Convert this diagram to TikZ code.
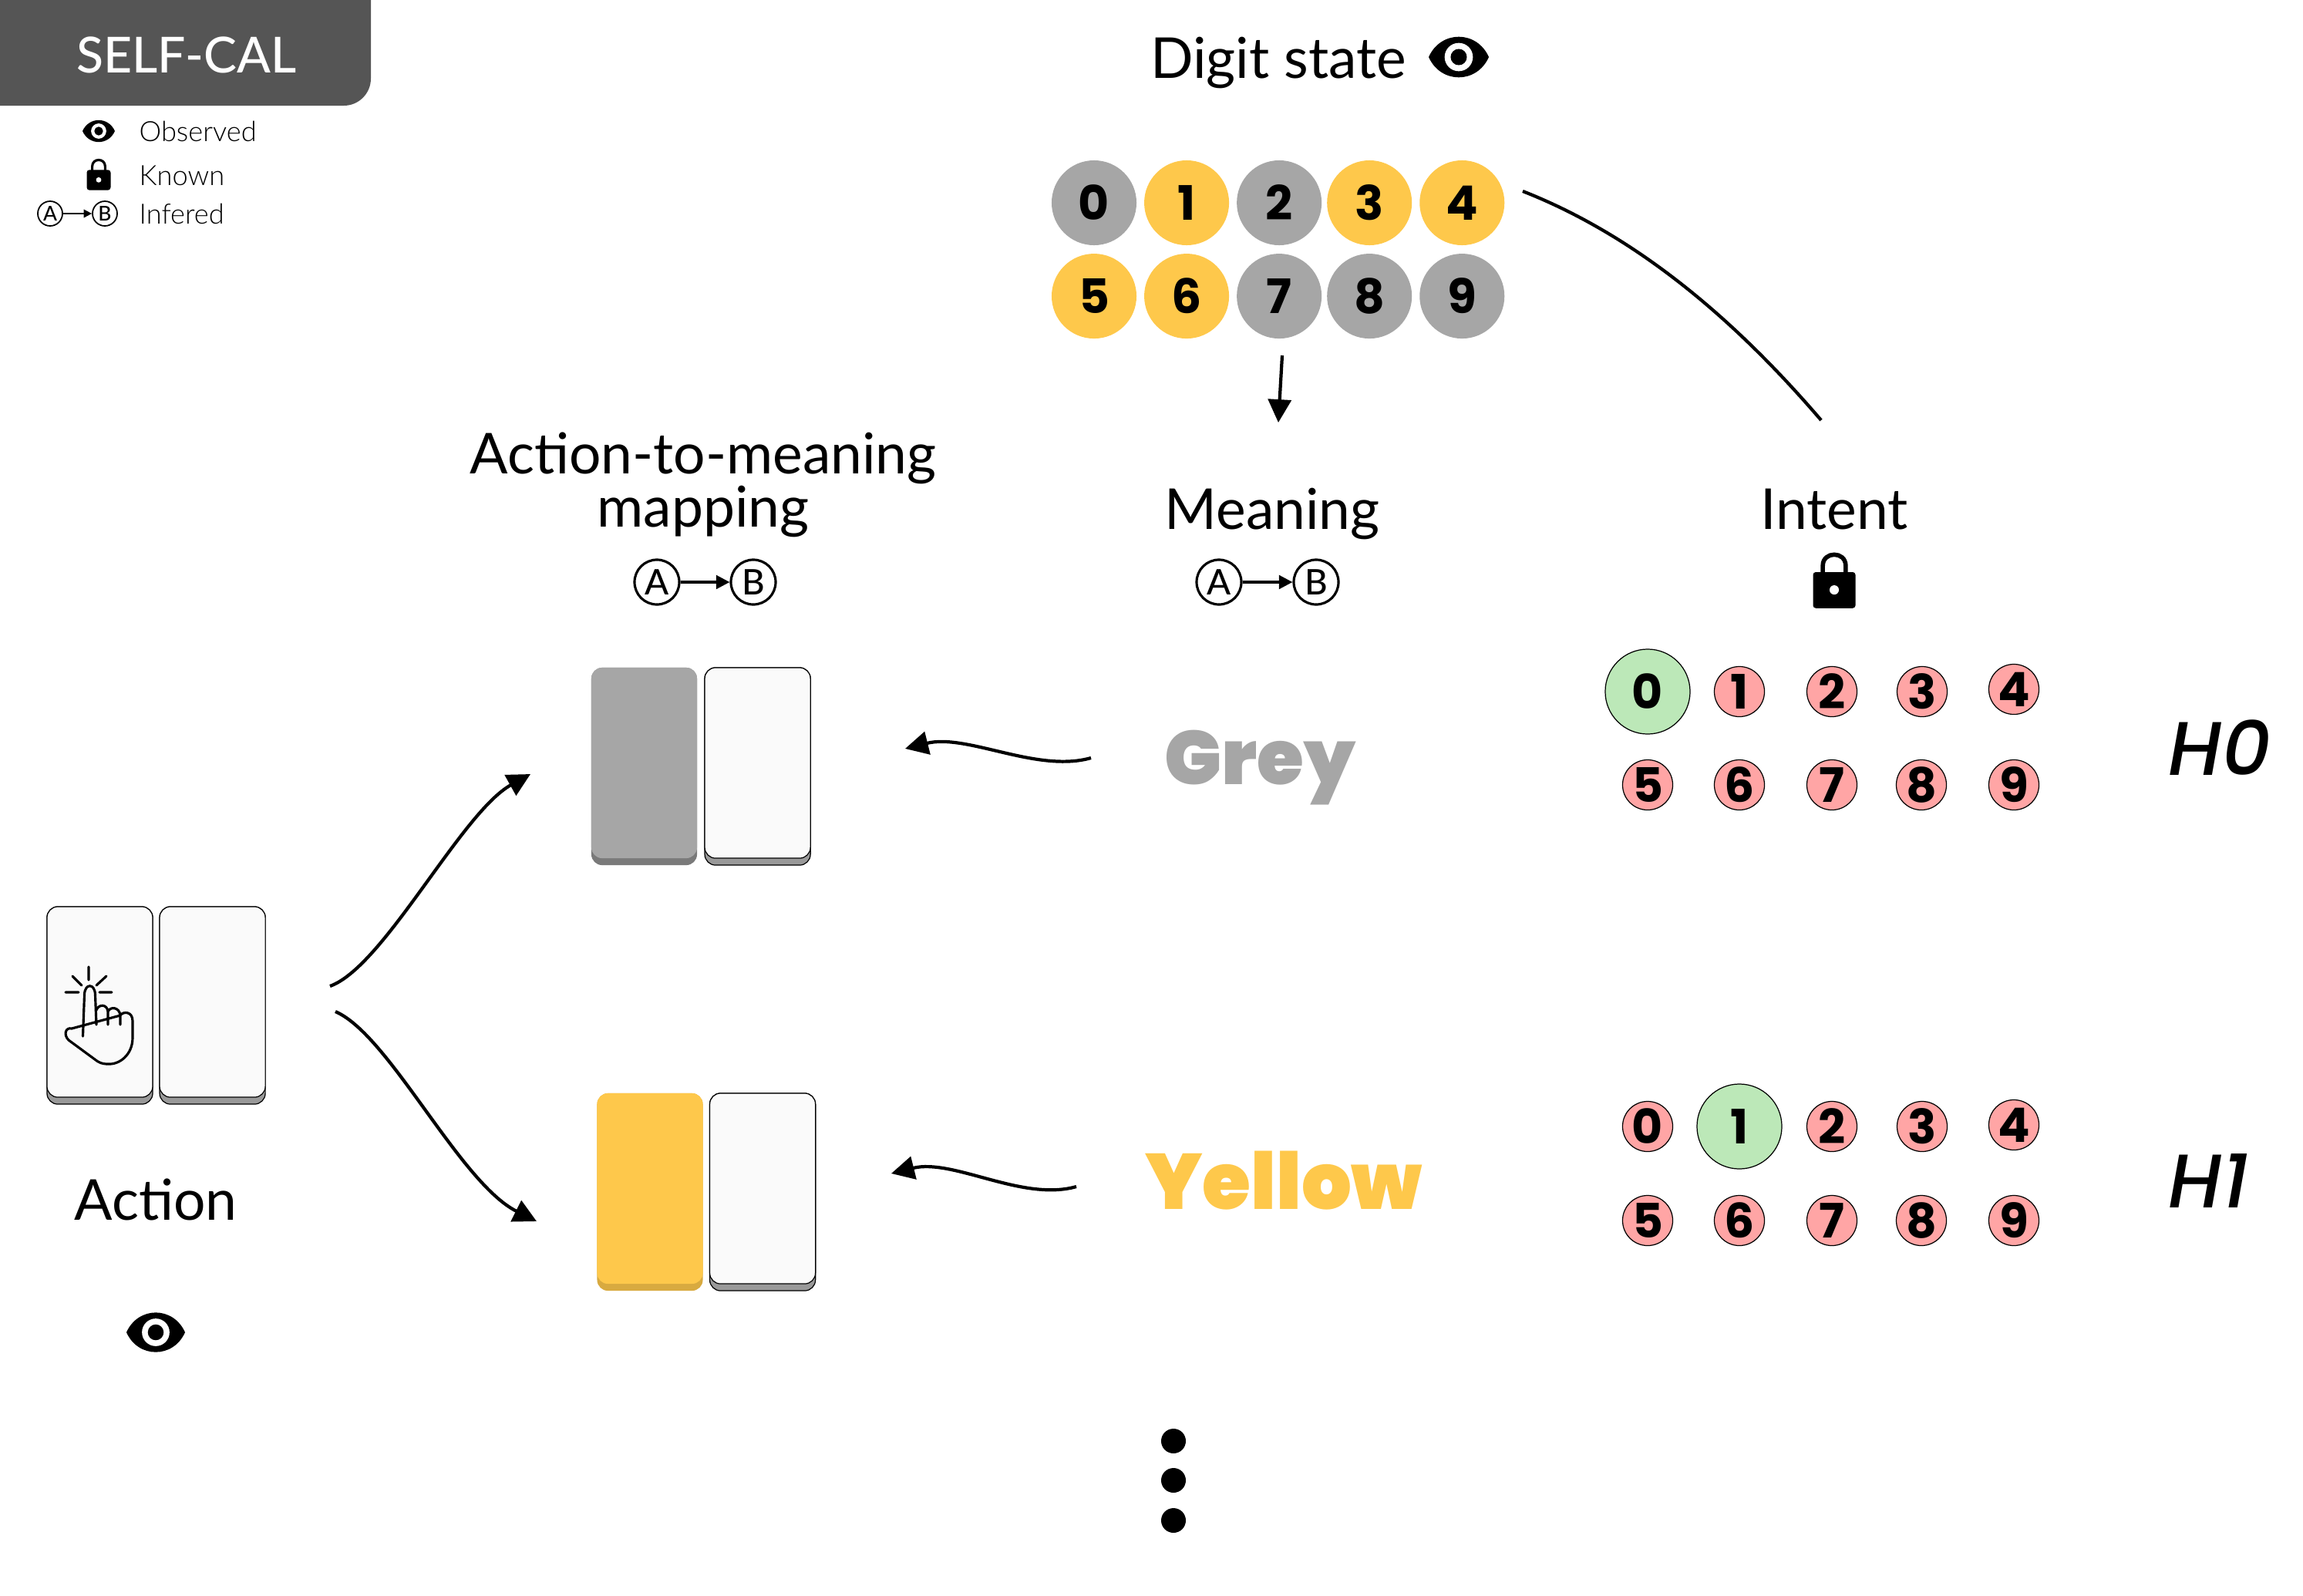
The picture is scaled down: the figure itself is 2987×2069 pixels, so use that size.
\documentclass[tikz,border=0pt]{standalone}
\usepackage{fontspec}
\usepackage{tikz}
\usetikzlibrary{arrows.meta, positioning}
\newfontfamily\lightfont{Lato Light}
\newfontfamily\bodyfont{Lato}
\newfontfamily\midfont{Lato Medium}
\newfontfamily\digitfont{Poppins}[BoldFont={Poppins Bold},ItalicFont={Poppins Medium Italic}]
\newfontfamily\heavyfont{Poppins Black}
\definecolor{hdgrey}{HTML}{555555}
\definecolor{chipgrey}{HTML}{A6A6A6}
\definecolor{chipyellow}{HTML}{FEC84B}
\definecolor{chipred}{HTML}{FFA5A5}
\definecolor{chipgreen}{HTML}{BCE8B8}
\tikzset{
  title/.style    = {font=\bodyfont\fontsize{20.8}{19.6}\selectfont, inner sep=0pt, align=center},
  legend/.style   = {font=\lightfont\fontsize{10.3}{12}\selectfont, inner sep=0pt, anchor=base west},
  chip/.style     = {circle, inner sep=0pt, outer sep=0pt, minimum size=11mm,
                     font=\digitfont\bfseries\fontsize{17.5}{20}\selectfont},
  chipg/.style    = {chip, fill=chipgrey},
  chipy/.style    = {chip, fill=chipyellow},
  hypr/.style     = {chip, draw=black, line width=0.35pt, fill=chipred, minimum size=6.5mm},
  hypg/.style     = {chip, draw=black, line width=0.35pt, fill=chipgreen},
  hyplab/.style   = {font=\digitfont\itshape\fontsize{28}{30}\selectfont, inner sep=0pt, anchor=base west},
  word/.style     = {font=\heavyfont\fontsize{29}{32}\selectfont, inner sep=0pt, anchor=base},
  keybase/.style  = {rounded corners=4pt, minimum width=13.7mm, minimum height=25.6mm, outer sep=0pt,
                     inner sep=0pt, draw=black, line width=0.35pt, fill=black!40},
  keyface/.style  = {rounded corners=4pt, minimum width=13.7mm, minimum height=24.7mm, outer sep=0pt,
                     inner sep=0pt, anchor=north, draw=black, line width=0.35pt, fill=black!2},
  ab/.style       = {circle, draw=black, line width=0.9pt, inner sep=0pt, minimum size=5.8mm,
                     font=\midfont\fontsize{13}{14}\selectfont},
  absmall/.style  = {ab, line width=0.5pt, minimum size=3.2mm, font=\midfont\fontsize{7.5}{8}\selectfont},
  fl/.style       = {-{Triangle[length=8.5pt, width=8.5pt]}, line width=1.2pt},
  flab/.style     = {-{Triangle[length=5pt, width=5pt]}, line width=1pt},
  flabs/.style    = {-{Triangle[length=3pt, width=3pt]}, line width=0.5pt},
  pics/eyeicon/.style = {code={
    \fill[black] (-1,0) .. controls (-0.6,-0.9) and (0.6,-0.9) .. (1,0)
                        .. controls (0.6,0.9) and (-0.6,0.9) .. (-1,0) -- cycle;
    \fill[white] (0,0) circle [radius=0.47];
    \fill[black] (0,0) circle [radius=0.27];
  }},
  pics/lockicon/.style = {code={
    \draw[black, line width=#1] (-0.27,-0.15) -- (-0.27,-0.35) .. controls (-0.27,-0.7) and (0.27,-0.7) .. (0.27,-0.35) -- (0.27,-0.15);
    \fill[black, rounded corners=1pt] (-0.5,-0.2) rectangle (0.5,0.65);
    \fill[white] (0,0.22) circle [radius=0.11];
  }},
}
\begin{document}
\begin{tikzpicture}[x=0.01cm, y=-0.01cm]
\useasboundingbox (0,0) rectangle (2987,2069);
% header and legend
\fill[hdgrey, rounded corners=10pt] (-40,-40) rectangle (481,137);
\node[font=\midfont\fontsize{18.3}{20}\selectfont, text=white, inner sep=0pt] (head) at (242,71) {SELF-CAL};
\pic[scale=21] at (128,170) {eyeicon};
\pic[scale=31] at (128,226.5) {lockicon=0.9pt};
\node[legend] (obs) at (180,183) {Observed};
\node[legend] (kno) at (180,240) {Known};
\node[legend] (inf) at (180,290) {Infered};
\node[absmall] (la) at (65,277) {A};
\node[absmall] (lb) at (136,277) {B};
\draw[flabs] (la) -- (lb);

% digit state
\node[title, anchor=base] (dig) at (1658,101) {Digit state};
\pic[scale=39] at (1892,74) {eyeicon};
\node[chipg] (d0) at (1419,263) {0};
\node[chipy, right=1mm of d0] (d1) {1};
\node[chipg, right=1mm of d1] (d2) {2};
\node[chipy, right=0.7mm of d2] (d3) {3};
\node[chipy, right=1mm of d3] (d4) {4};
\node[chipy, below=1.1mm of d0] (d5) {5};
\node[chipy, right=1mm of d5] (d6) {6};
\node[chipg, right=1mm of d6] (d7) {7};
\node[chipg, right=0.7mm of d7] (d8) {8};
\node[chipg, right=1mm of d8] (d9) {9};

\coordinate (dsa) at (1663,461);
\coordinate (dsb) at (1658,548);
\draw[fl] (dsa) -- (dsb);
\coordinate (isa) at (1975,248);
\coordinate (isb) at (2362,545);
\draw[line width=1.2pt] (isa) .. controls +(140,55) and +(-120,-140) .. (isb);

% column titles
\node[title] (map) at (912,629) {Action-to-meaning\\mapping};
\node[title, anchor=base] (mea) at (1650,686) {Meaning};
\node[title, anchor=base] (int) at (2379,686) {Intent};
\node[ab] (ma) at (852,755) {A};
\node[ab] (mb) at (977,755) {B};
\draw[flab] (ma) -- (mb);
\node[ab] (na) at (1581,755) {A};
\node[ab] (nb) at (1707,755) {B};
\draw[flab] (na) -- (nb);
\pic[scale=55] at (2379,753) {lockicon=1.6pt};

% keys
\node[keybase] (act1b) at (129.5,1304) {};
\node[keyface] (act1) at (act1b.north) {};
\node[keybase, right=0.9mm of act1b] (act2b) {};
\node[keyface] (act2) at (act2b.north) {};
\node[keybase, draw=none, fill=black!52] (gr1b) at (835.5,994) {};
\node[keyface, draw=none, fill=chipgrey] (gr1) at (gr1b.north) {};
\node[keybase, right=1mm of gr1b] (gr2b) {};
\node[keyface] (gr2) at (gr2b.north) {};
\node[keybase, draw=none, fill=chipyellow!85!black] (ye1b) at (843,1546) {};
\node[keyface, draw=none, fill=chipyellow] (ye1) at (ye1b.north) {};
\node[keybase, right=0.9mm of ye1b] (ye2b) {};
\node[keyface] (ye2) at (ye2b.north) {};

% pointing hand
\draw[line width=0.9pt, line cap=round, line join=round]
  (107.5,1344) -- (109.5,1290) .. controls (110,1275) and (123,1275) .. (123.5,1290) -- (125,1329)
  (125,1310) .. controls (128,1302) and (139,1302) .. (140,1312) -- (140,1329)
  (140,1312) .. controls (143,1305) and (155,1306) .. (156,1317) -- (156,1329)
  (156,1317) .. controls (160,1311) and (172,1312) .. (172,1324) -- (172,1346)
  .. controls (172,1368) and (155,1381) .. (140,1380) .. controls (132,1380) and (128,1378) .. (123,1374)
  -- (89,1349) .. controls (82,1342) and (85,1332) .. (93,1334) -- cycle;
\draw[line width=0.9pt, line cap=round]
  (115,1254) -- (115,1271) (85,1287) -- (102,1287) (129,1287) -- (145,1287)
  (94,1266) -- (106,1278) (138,1266) -- (125,1278);

\node[title, anchor=base] (act) at (202,1582) {Action};
\pic[scale=38] at (202,1728) {eyeicon};

% arrows from the keys
\coordinate (afa) at (428,1279);
\coordinate (afb) at (688,1004);
\coordinate (aga) at (435,1312);
\coordinate (agb) at (696,1584);
\draw[fl] (afa) .. controls +(70,-25) and +(-90,50) .. (afb);
\draw[fl] (aga) .. controls +(70,30) and +(-100,-50) .. (agb);

% meanings
\node[word, font=\heavyfont\fontsize{28}{32}\selectfont, text=chipgrey] (grey) at (1634,1017) {Grey};
\node[word, text=chipyellow] (yell) at (1665,1568) {Yellow};
\coordinate (gma) at (1415,983);
\coordinate (gmb) at (1174,971);
\coordinate (yma) at (1396,1539);
\coordinate (ymb) at (1156,1522);
\draw[fl] (gma) .. controls +(-70,20) and +(80,-20) .. (gmb);
\draw[fl] (yma) .. controls +(-70,20) and +(80,-20) .. (ymb);

% hypotheses
\node[hypg] (a0) at (2137,897) {0};
\node[hypr] (a1) at (2256,897) {1};
\node[hypr] (a2) at (2376,897) {2};
\node[hypr] (a3) at (2493,897) {3};
\node[hypr] (a4) at (2612,894) {4};
\node[hypr] (a5) at (2137,1018) {5};
\node[hypr] (a6) at (2256,1018) {6};
\node[hypr] (a7) at (2376,1018) {7};
\node[hypr] (a8) at (2492,1018) {8};
\node[hypr] (a9) at (2612,1018) {9};
\node[hyplab] (h0) at (2812,1005) {H0};

\node[hypr] (b0) at (2137,1461) {0};
\node[hypg] (b1) at (2256,1461) {1};
\node[hypr] (b2) at (2376,1461) {2};
\node[hypr] (b3) at (2493,1461) {3};
\node[hypr] (b4) at (2612,1459) {4};
\node[hypr] (b5) at (2137,1583) {5};
\node[hypr] (b6) at (2256,1583) {6};
\node[hypr] (b7) at (2376,1583) {7};
\node[hypr] (b8) at (2492,1583) {8};
\node[hypr] (b9) at (2612,1583) {9};
\node[hyplab] (h1) at (2812,1566) {H1};

% dots
\fill (1522,1869) circle [radius=16];
\fill (1522,1920) circle [radius=16];
\fill (1522,1972) circle [radius=16];
\end{tikzpicture}
\end{document}
